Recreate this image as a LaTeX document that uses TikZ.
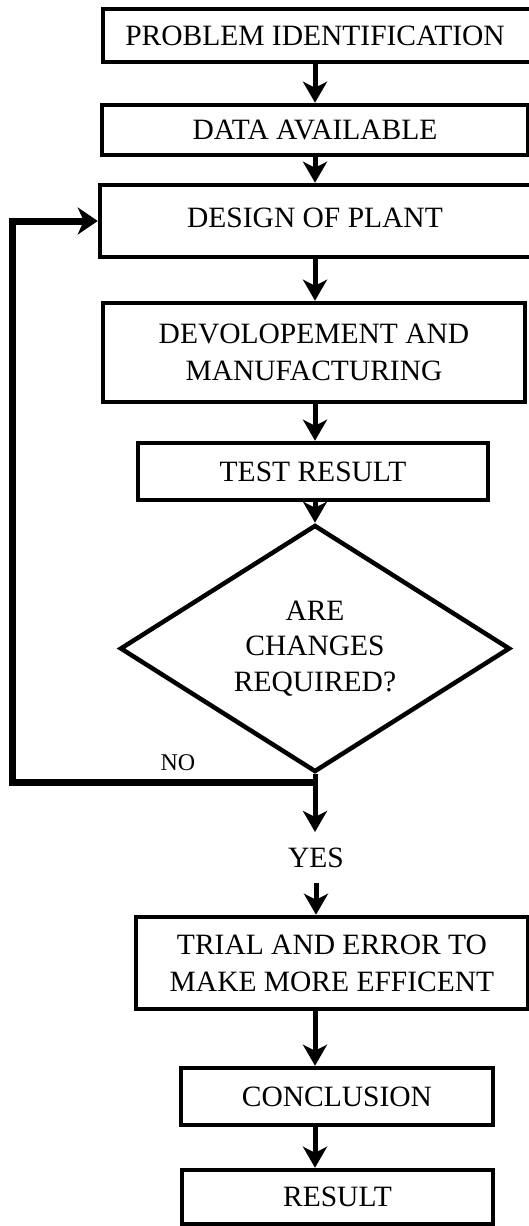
\documentclass[tikz,border=0pt]{standalone}
\usepackage{fontspec}
\setmainfont{Liberation Serif}
\usetikzlibrary{arrows.meta,shapes.geometric,calc}
\begin{document}
\begin{tikzpicture}[x=1pt,y=-1pt,
  box/.style={draw, line width=4.5pt, rectangle, inner sep=0pt, align=center,
    font=\fontsize{29.5}{37}\selectfont},
  dec/.style={draw, line width=4.5pt, diamond, aspect=1.58, inner sep=0pt, align=center,
    minimum width=390pt, minimum height=247pt, font=\fontsize{29.5}{35.5}\selectfont},
  flow/.style={line width=5pt, -{Stealth[length=21pt,width=24pt,inset=6pt]}},
  back/.style={line width=7pt, -{Stealth[length=20pt,width=27pt,inset=6pt]}},
  lbl/.style={inner sep=0pt, font=\fontsize{29.5}{35}\selectfont},
  small/.style={inner sep=0pt, font=\fontsize{24}{28}\selectfont}]
\useasboundingbox (0,0) rectangle (529,1226);
\clip (0,0) rectangle (529,1226);
\fill[white] (0,0) rectangle (529,1226);

\node[box, minimum width=433pt, minimum height=53pt] (b1) at (319.5,35.5) {\hspace*{-9pt}PROBLEM IDENTIFICATION};
\node[box, minimum width=426pt, minimum height=50pt] (b2) at (315,130) {DATA AVAILABLE};
\node[box, minimum width=436pt, minimum height=72pt] (b3) at (318,221) {\hspace*{-6pt}\raisebox{6pt}{DESIGN OF PLANT}};
\node[box, minimum width=422pt, minimum height=99pt] (b4) at (314,352.5) {DEVOLOPEMENT AND\\MANUFACTURING};
\node[box, minimum width=350pt, minimum height=57pt] (b5) at (313,471.5) {TEST RESULT};
\node[dec] (d) at (315,648.5) {ARE\\CHANGES\\REQUIRED?};
\node[box, minimum width=392pt, minimum height=92pt] (b6) at (332,963) {TRIAL AND ERROR TO\\MAKE MORE EFFICENT};
\node[box, minimum width=312pt, minimum height=57pt] (b7) at (337,1096.5) {CONCLUSION};
\node[box, minimum width=311pt, minimum height=54pt] (b8) at (337.5,1197) {RESULT};

\coordinate (spine) at (315,0);
\coordinate (split) at (315,782);
\coordinate (lx) at (12,0);
\coordinate (yesin) at (315,832);
\coordinate (yesout) at (316,883);

\node[lbl] (yes) at (316,858) {YES};
\node[small] (no) at (178,763) {NO};

\draw[flow] (b1.south -| spine) -- (b2.north -| spine);
\draw[flow] (b2.south -| spine) -- (b3.north -| spine);
\draw[flow] (b3.south -| spine) -- (b4.north -| spine);
\draw[flow] (b4.south -| spine) -- (b5.north -| spine);
\draw[flow] (b5.south -| spine) -- (d.north);
\draw[flow] (d.south) -- (yesin);
\draw[flow] (yesout) -- (b6.north -| yesout);
\draw[flow] (b6.south -| spine) -- (b7.north -| spine);
\draw[flow] (b7.south -| spine) -- (b8.north -| spine);

\draw[back] (split) -- (split -| lx) -- (lx |- b3.west) -- (b3.west);
\end{tikzpicture}
\end{document}
